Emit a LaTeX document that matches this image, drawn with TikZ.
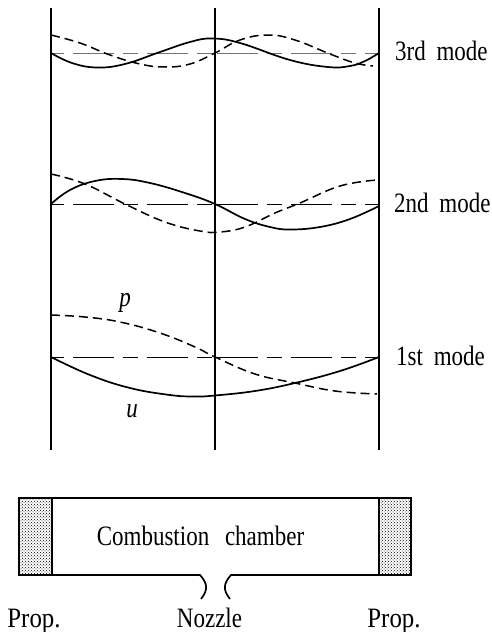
\documentclass[tikz,border=0pt]{standalone}
\usepackage{fontspec}
\setmainfont{Liberation Serif}
\usetikzlibrary{patterns}
\newcommand{\talltext}[1]{\scalebox{1}[1.22]{#1}}
\newcommand{\wideprop}{\scalebox{1.08}[1.22]{Prop.}}
\tikzset{
  wall/.style={line width=1.3pt},
  midwall/.style={line width=2.2pt},
  solidwave/.style={line width=1.7pt},
  dashwave/.style={line width=1.5pt,dash pattern=on 9pt off 5pt},
  axisline/.style={line width=1pt,dash pattern=on 41pt off 9pt on 15pt off 9pt},
  axisthin/.style={line width=0.7pt,black!55,dash pattern=on 41pt off 9pt on 15pt off 9pt},
  housing/.style={line width=1.7pt},
  lbl/.style={font=\fontsize{23pt}{26pt}\selectfont,inner sep=0pt,text=black},
}
\begin{document}
\begin{tikzpicture}[x=1pt,y=-1pt]
\useasboundingbox (0,0) rectangle (492,632);
% named anchors
\coordinate (LT) at (51,8);   \coordinate (LB) at (51,450);
\coordinate (MT) at (215,8);  \coordinate (MB) at (215,450);
\coordinate (RT) at (379,8);  \coordinate (RB) at (379,450);
% axes
\draw[axisthin,dash phase=52pt] (51,53) -- (215,53);
\draw[axisthin] (217,53) -- (379,53);
\draw[axisline,dash phase=52pt] (51,204) -- (215,204);
\draw[axisline] (217,204) -- (379,204);
\draw[axisline,dash phase=52pt] (51,357) -- (215,357);
\draw[axisline] (217,357) -- (379,357);
% walls
\draw[wall] (LT) -- (LB);
\draw[midwall] (MT) -- (MB);
\draw[wall] (RT) -- (RB);
% 3rd mode
\draw[solidwave] plot[smooth,tension=0.7] coordinates {(51,53) (72,63) (97,67.5) (125,64) (160,52) (190,42) (212,38.5) (240,43) (290,60) (328,67) (350,66) (365,61) (379,53)};
\draw[dashwave] plot[smooth,tension=0.7] coordinates {(51,35) (80,43) (110,55) (140,64) (165,67) (190,64) (215,53) (240,40) (268,35) (295,40) (330,54) (355,63) (373,66)};
% 2nd mode
\draw[solidwave] plot[smooth,tension=0.7] coordinates {(51,204) (70,190) (95,181) (122,179) (150,183) (185,193) (215,204) (245,219) (270,227) (290,229.5) (320,227) (350,219) (379,206)};
\draw[dashwave] plot[smooth,tension=0.7] coordinates {(51,174) (85,184) (125,204) (165,222) (200,231) (220,232) (245,227) (275,213) (300,203) (340,186) (377,180)};
% 1st mode
\draw[solidwave] plot[smooth,tension=0.7] coordinates {(51,357) (90,375) (130,388) (170,395) (195,396.5) (215,395.5) (255,391) (295,383) (340,371) (379,357)};
\draw[dashwave] plot[smooth,tension=0.7] coordinates {(51,315) (85,317) (120,322) (160,333) (195,347) (215,357) (255,374) (295,383) (335,391) (377,394)};
% chamber
\filldraw[housing,draw=black,fill=white] (19,498) rectangle (52,575);
\fill[pattern=crosshatch dots,pattern color=black] (20,499) rectangle (51,574);
\filldraw[housing,draw=black,fill=white] (379,498) rectangle (411,575);
\fill[pattern=crosshatch dots,pattern color=black] (380,499) rectangle (410,574);
\draw[housing] (19,498) -- (411,498);
\draw[housing] (19,575) -- (200,575) .. controls (208,584) and (208,590) .. (201,599);
\draw[housing] (411,575) -- (231,575) .. controls (223,584) and (223,590) .. (230,599);
% labels
\node[lbl,anchor=base west] (m3) at (395,60) {\talltext{3rd\hspace{5pt} mode}};
\node[lbl,anchor=base west] (m2) at (394,212) {\talltext{2nd\hspace{5pt} mode}};
\node[lbl,anchor=base west] (m1) at (396,365) {\talltext{1st\hspace{5pt} mode}};
\node[lbl,anchor=base] (p) at (125,306) {\talltext{\itshape p}};
\node[lbl,anchor=base] (u) at (132,417) {\talltext{\itshape u}};
\node[lbl,anchor=base] (cc) at (200.5,545) {\talltext{Combustion\hspace{10pt} chamber}};
\node[lbl,anchor=base] (pl) at (34,627) {\wideprop};
\node[lbl,anchor=base] (nz) at (209.5,627) {\talltext{Nozzle}};
\node[lbl,anchor=base] (pr) at (394,627) {\wideprop};
\end{tikzpicture}
\end{document}
